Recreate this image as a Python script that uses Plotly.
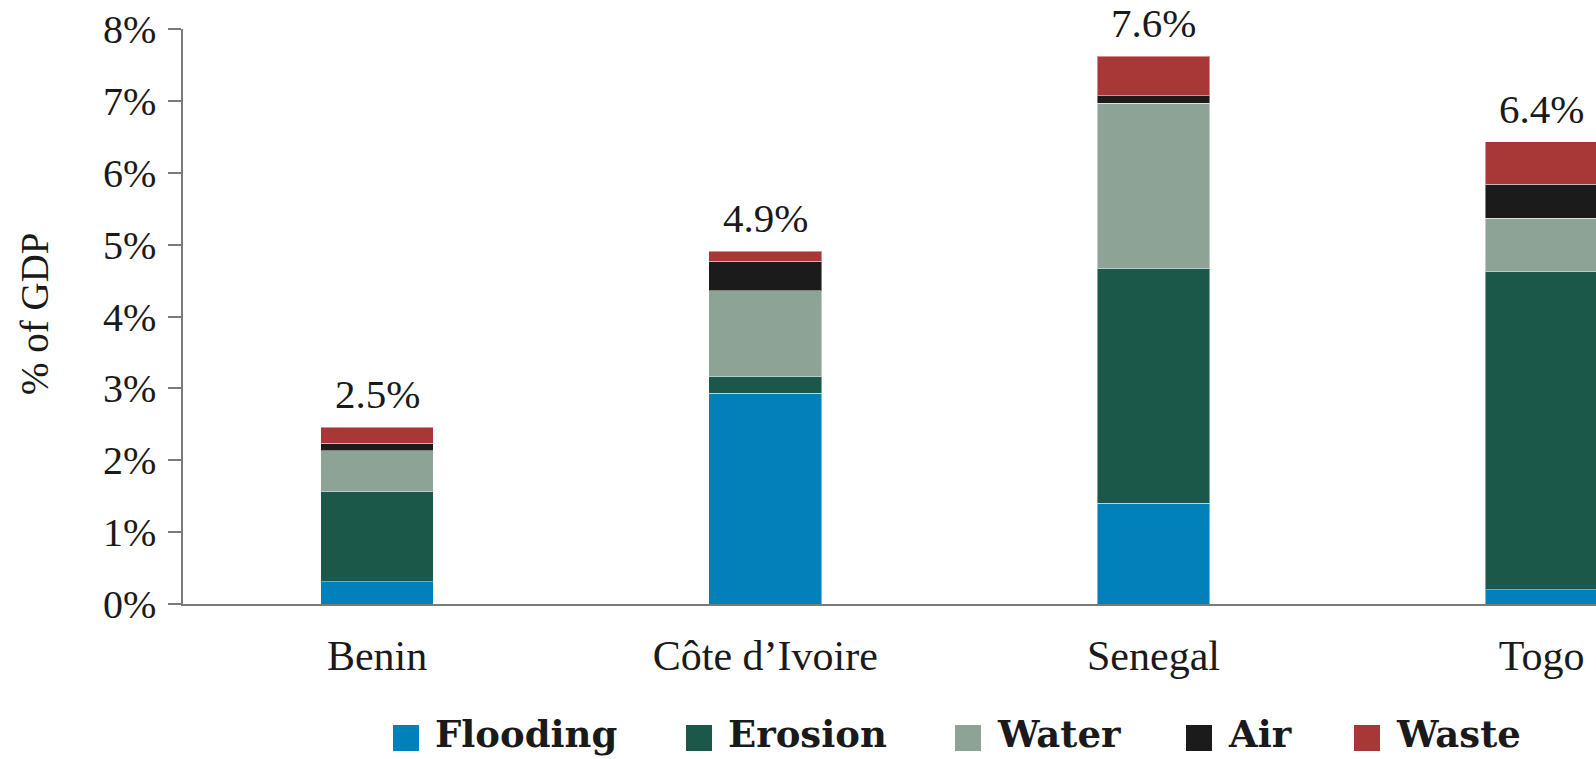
import plotly.graph_objects as go

countries = ["Benin", "Côte d’Ivoire", "Senegal", "Togo"]
flooding = [0.31, 2.93, 1.40, 0.20]
erosion = [1.26, 0.24, 3.27, 4.42]
water = [0.56, 1.19, 2.30, 0.75]
air = [0.11, 0.41, 0.10, 0.47]
waste = [0.22, 0.14, 0.55, 0.59]

series_names = ["Flooding", "Erosion", "Water", "Air", "Waste"]
series_values = [flooding, erosion, water, air, waste]
series_colors = ["#0180B9", "#1C584A", "#8DA396", "#1B1B1B", "#A83838"]

y_ticks = [0, 1, 2, 3, 4, 5, 6, 7, 8]
y_ticktext = [f"{v}%" for v in y_ticks]

W, H = 1596, 759
ML, MR, MT, MB = 183, 0, 29, 155
PW, PH = W - ML - MR, H - MT - MB

SERIF = "Liberation Serif, Times New Roman, serif"
BOLD_SERIF = "DejaVu Serif, serif"

fig = go.Figure()
for name, vals, col in zip(series_names, series_values, series_colors):
    fig.add_trace(go.Bar(
        x=countries, y=vals, name=name, width=0.29,
        marker=dict(color=col, line=dict(color="rgba(255,255,255,0.45)", width=1)),
        showlegend=False, hoverinfo="x+y+name",
    ))

totals = [sum(v) for v in zip(*series_values)]
for c, t in zip(countries, totals):
    fig.add_annotation(x=c, y=t, xref="x", yref="y", text=f"{t:.1f}%",
                       showarrow=False, yanchor="bottom", yshift=8,
                       font=dict(family=SERIF, size=41, color="#1a1a1a"))

# y-axis title
fig.add_annotation(x=(34 - ML) / PW, y=(MT + PH - 314) / PH, xref="paper", yref="paper",
                   text="% of GDP", textangle=-90, showarrow=False,
                   xanchor="center", yanchor="middle",
                   font=dict(family=SERIF, size=39, color="#1a1a1a"))

# legend (custom, larger swatches)
def px_x(p):
    return (p - ML) / PW

def px_y(p):
    return (MT + PH - p) / PH

legend_sq_left = [393, 686, 955, 1186, 1354]
sq = 26
cy = 738
for name, col, x0 in zip(series_names, series_colors, legend_sq_left):
    fig.add_shape(type="rect", xref="paper", yref="paper",
                  x0=px_x(x0), x1=px_x(x0 + sq), y0=px_y(cy + sq / 2), y1=px_y(cy - sq / 2),
                  fillcolor=col, line=dict(width=0))
    fig.add_annotation(x=px_x(x0 + sq + 14), y=px_y(758), xref="paper", yref="paper",
                       text=f"<b>{name}</b>", showarrow=False, xanchor="left", yanchor="bottom",
                       font=dict(family=BOLD_SERIF, size=37, color="#1a1a1a"))

fig.update_layout(
    width=W, height=H, barmode="stack",
    margin=dict(l=ML, r=MR, t=MT, b=MB, pad=0),
    plot_bgcolor="white", paper_bgcolor="white",
    showlegend=False,
    xaxis=dict(range=[-0.5, 3.14], showline=True, linecolor="#7a7a7a", linewidth=1.5,
               ticks="", showgrid=False, zeroline=False,
               tickfont=dict(family=SERIF, size=42, color="#1a1a1a"),
               ticklabelstandoff=14),
    yaxis=dict(range=[0, 8], tickvals=y_ticks, ticktext=y_ticktext,
               showline=True, linecolor="#7a7a7a", linewidth=1.5,
               ticks="outside", ticklen=13, tickcolor="#7a7a7a", tickwidth=1.5,
               showgrid=False, zeroline=False,
               tickfont=dict(family=SERIF, size=40, color="#1a1a1a"),
               ticklabelstandoff=4),
)

fig.write_html("out.html")
